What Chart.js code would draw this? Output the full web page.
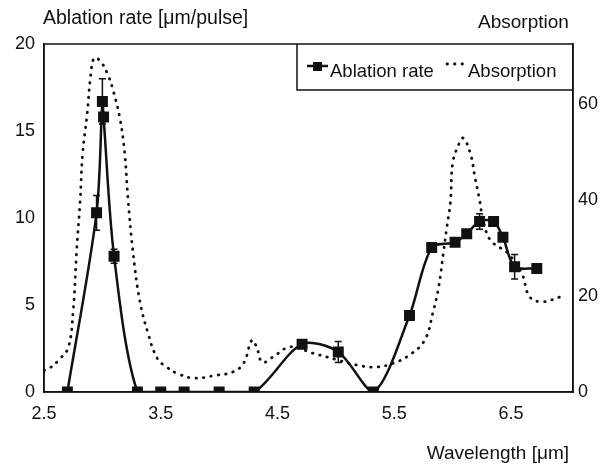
<!DOCTYPE html>
<html lang="en">
<head>
  <meta charset="UTF-8" />
  <title>Ablation rate and Absorption</title>
  <style>
    body {
      margin: 0;
      padding: 0;
      background: #fff;
    }
    .wrap {
      width: 611px;
      height: 465px;
    }
  </style>
  <script src="https://cdn.jsdelivr.net/npm/chart.js"></script>
</head>
<body>
  <div class="wrap"><canvas id="chart" width="611" height="465"></canvas></div>

  <script>
    // Ablation rate measurements
    const wavelength = [2.7, 2.95, 3.0, 3.01, 3.1, 3.3, 3.5, 3.7, 4.0, 4.3, 4.71, 5.02, 5.32, 5.63, 5.82, 6.02, 6.12, 6.23, 6.35, 6.43, 6.53, 6.72];
    const ablationRate = [0, 10.3, 16.7, 15.8, 7.8, 0, 0, 0, 0, 0, 2.75, 2.3, 0, 4.4, 8.3, 8.6, 9.1, 9.8, 9.8, 8.9, 7.2, 7.1];
    const ablationErr = [0, 1.0, 1.3, 0, 0.4, 0, 0, 0, 0, 0, 0.15, 0.6, 0, 0.2, 0, 0, 0, 0.45, 0, 0.2, 0.7, 0];

    // Absorption spectrum
    const absWavelength = [2.5, 2.55, 2.64, 2.71, 2.75, 2.78, 2.81, 2.83, 2.87, 2.9, 2.93, 2.98, 3.04, 3.09, 3.15, 3.19, 3.22, 3.26, 3.32, 3.39, 3.47, 3.55, 3.64, 3.78, 3.98, 4.12, 4.21, 4.28, 4.32, 4.37, 4.46, 4.61, 4.8, 5.01, 5.18, 5.35, 5.49, 5.63, 5.76, 5.83, 5.88, 5.92, 5.95, 5.98, 6.0, 6.05, 6.09, 6.15, 6.19, 6.23, 6.26, 6.32, 6.41, 6.47, 6.59, 6.66, 6.77, 6.92];
    const absorption = [4.5, 5.0, 7.0, 9.4, 17, 29.6, 40, 49.4, 58, 66, 69.6, 69, 66.5, 63, 57, 50, 40, 29.6, 19, 12.3, 7, 5.2, 3.9, 2.9, 3.5, 4.2, 6, 10.8, 9.4, 6.2, 7.3, 9.4, 8.1, 6.7, 5.6, 5.2, 6, 7.7, 10.8, 16.5, 21.9, 29, 34.4, 39.4, 47.7, 51.5, 52.9, 49.8, 44.8, 40, 35.8, 31.7, 30, 29, 24.8, 19.8, 18.8, 19.8];

    const xTicks = [2.5, 3.5, 4.5, 5.5, 6.5];
    const yTicks = [0, 5, 10, 15, 20];
    const y2Ticks = [0, 20, 40, 60];

    const FONT = 'Liberation Sans, Arial, sans-serif';
    const INK = '#111';

    const rateData = wavelength.map((w, i) => ({ x: w, y: ablationRate[i] }));
    const absData = absWavelength.map((w, i) => ({ x: w, y: absorption[i] }));

    // error bars for the ablation rate
    const errorBars = {
      id: 'errorBars',
      afterDatasetsDraw(chart) {
        const { ctx, scales } = chart;
        ctx.save();
        ctx.strokeStyle = INK;
        ctx.lineWidth = 1.5;
        for (let i = 0; i < wavelength.length; i++) {
          if (!ablationErr[i]) continue;
          const x = scales.x.getPixelForValue(wavelength[i]);
          const y1 = scales.y.getPixelForValue(ablationRate[i] + ablationErr[i]);
          const y0 = scales.y.getPixelForValue(ablationRate[i] - ablationErr[i]);
          ctx.beginPath();
          ctx.moveTo(x, y0); ctx.lineTo(x, y1);
          ctx.moveTo(x - 3.5, y0); ctx.lineTo(x + 3.5, y0);
          ctx.moveTo(x - 3.5, y1); ctx.lineTo(x + 3.5, y1);
          ctx.stroke();
        }
        ctx.restore();
      }
    };

    // frame, legend box and axis titles
    const decorations = {
      id: 'decorations',
      afterDraw(chart) {
        const { ctx, chartArea: a } = chart;
        ctx.save();
        ctx.strokeStyle = INK;
        ctx.lineWidth = 1.5;
        ctx.strokeRect(a.left, a.top, a.right - a.left, a.bottom - a.top);

        // legend box
        const lx = 297, ly = 90;
        ctx.beginPath();
        ctx.moveTo(lx, a.top); ctx.lineTo(lx, ly); ctx.lineTo(a.right, ly);
        ctx.stroke();

        ctx.lineWidth = 2.5;
        ctx.beginPath();
        ctx.moveTo(307, 66); ctx.lineTo(328, 66);
        ctx.stroke();
        ctx.fillStyle = INK;
        ctx.fillRect(313, 62, 9, 9);

        ctx.lineWidth = 2.8;
        ctx.lineCap = 'round';
        ctx.setLineDash([0.5, 7]);
        ctx.beginPath();
        ctx.moveTo(447, 64); ctx.lineTo(467, 64);
        ctx.stroke();
        ctx.setLineDash([]);

        ctx.font = '18.5px ' + FONT;
        ctx.textBaseline = 'alphabetic';
        ctx.textAlign = 'left';
        ctx.fillText('Ablation rate', 330, 77);
        ctx.fillText('Absorption', 468, 77);

        ctx.font = '19.5px ' + FONT;
        ctx.fillText('Ablation rate [\u03bcm/pulse]', 43, 24);
        ctx.font = '19px ' + FONT;
        ctx.fillText('Absorption', 478, 28);
        ctx.textAlign = 'right';
        ctx.fillText('Wavelength [\u03bcm]', 569, 459);
        ctx.restore();
      }
    };

    new Chart(document.getElementById('chart'), {
      type: 'line',
      data: {
        datasets: [
          {
            label: 'Ablation rate',
            data: rateData,
            yAxisID: 'y',
            borderColor: INK,
            backgroundColor: INK,
            borderWidth: 2.5,
            pointStyle: 'rect',
            pointRadius: 6,
            tension: 0.3,
            fill: false
          },
          {
            label: 'Absorption',
            data: absData,
            yAxisID: 'y2',
            borderColor: INK,
            borderWidth: 2.8,
            borderDash: [0.5, 7],
            borderCapStyle: 'round',
            pointRadius: 0,
            tension: 0.4,
            fill: false
          }
        ]
      },
      options: {
        responsive: false,
        animation: false,
        layout: { padding: { top: 44, left: 0, right: 0, bottom: 0 } },
        plugins: {
          legend: { display: false },
          tooltip: { enabled: false }
        },
        scales: {
          x: {
            type: 'linear',
            min: 2.5,
            max: 7.03,
            afterBuildTicks: s => { s.ticks = xTicks.map(v => ({ value: v })); },
            afterFit: s => { s.height = 73; },
            grid: { display: false, drawTicks: false },
            border: { display: true, color: INK, width: 1.5 },
            ticks: { color: INK, font: { family: FONT, size: 18 }, padding: 11, maxRotation: 0 }
          },
          y: {
            position: 'left',
            min: 0,
            max: 20,
            afterBuildTicks: s => { s.ticks = yTicks.map(v => ({ value: v })); },
            afterFit: s => { s.width = 44; },
            grid: { display: false, drawTicks: false },
            border: { display: true, color: INK, width: 1.5 },
            ticks: { color: INK, font: { family: FONT, size: 18 }, padding: 9 }
          },
          y2: {
            position: 'right',
            min: 0,
            max: 72.5,
            afterBuildTicks: s => { s.ticks = y2Ticks.map(v => ({ value: v })); },
            afterFit: s => { s.width = 38; },
            grid: { display: false, drawTicks: false },
            border: { display: true, color: INK, width: 1.5 },
            ticks: { color: INK, font: { family: FONT, size: 18 }, padding: 5 }
          }
        }
      },
      plugins: [errorBars, decorations]
    });
  </script>
</body>
</html>
